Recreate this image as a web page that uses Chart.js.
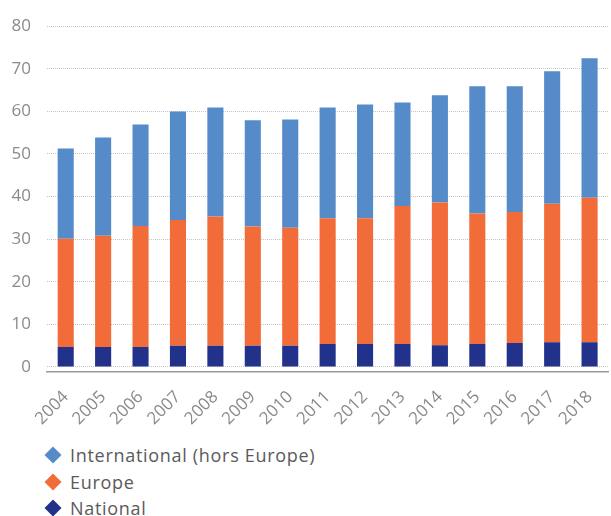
<!DOCTYPE html>
<html>
<head>
<meta charset="utf-8">
<script src="https://cdn.jsdelivr.net/npm/chart.js@4"></script>
<style>
  body { margin: 0; background: #fff; font-family: 'Open Sans', sans-serif; }
  #wrap { position: relative; width: 611px; height: 436px; }
  #legend { list-style: none; margin: 0; padding: 0; position: absolute; left: 44px; top: 442px; }
  #legend li { height: 26.5px; line-height: 26px; font-size: 18px; letter-spacing: 0.7px; color: #5a5a5a; display: flex; align-items: center; }
  #legend .dia { width: 12px; height: 12px; transform: rotate(45deg); margin: 0 11px 0 3px; }
</style>
</head>
<body>
<div id="wrap"><canvas id="chart"></canvas></div>
<ul id="legend"></ul>
<script>
const years = ['2004', '2005', '2006', '2007', '2008', '2009', '2010', '2011', '2012', '2013', '2014', '2015', '2016', '2017', '2018']
const national = [4.7, 4.7, 4.7, 5.0, 5.0, 5.0, 5.0, 5.4, 5.4, 5.4, 5.1, 5.4, 5.6, 5.8, 5.8]
const europe = [25.4, 26.1, 28.4, 29.5, 30.3, 28.0, 27.7, 29.5, 29.5, 32.4, 33.5, 30.6, 30.8, 32.5, 33.9]
const international = [21.2, 23.1, 23.8, 25.5, 25.6, 24.9, 25.4, 26.0, 26.7, 24.3, 25.2, 29.9, 29.5, 31.1, 32.8]
const yTicks = [0, 10, 20, 30, 40, 50, 60, 70, 80]

const ctx = document.getElementById('chart').getContext('2d')
const chart = new Chart(ctx, {
  type: 'bar',
  data: {
    labels: years,
    datasets: [
      { label: 'National', data: national, backgroundColor: '#22318a' },
      { label: 'Europe', data: europe, backgroundColor: '#f26c3a' },
      { label: 'International (hors Europe)', data: international, backgroundColor: '#568bca' }
    ]
  },
  options: {
    responsive: true,
    maintainAspectRatio: false,
    animation: false,
    datasets: { bar: { categoryPercentage: 1, barPercentage: 0.43 } },
    layout: { padding: { top: 17, right: 0, left: 0, bottom: 0 } },
    plugins: { legend: { display: false }, tooltip: { enabled: false } },
    scales: {
      x: {
        stacked: true,
        grid: { display: false },
        border: { display: true, color: '#9a9a9a', width: 1.5 },
        ticks: { color: '#8a8a8a', font: { family: "'Open Sans', sans-serif", size: 17 }, minRotation: 45, maxRotation: 45, padding: 7 }
      },
      y: {
        stacked: true,
        min: -1.2,
        max: 80,
        afterBuildTicks: scale => { scale.ticks = yTicks.map(v => ({ value: v })) },
        afterFit: scale => { scale.width = 47 },
        grid: { color: '#c4c4c4', lineWidth: 1, drawTicks: false },
        border: { display: false, dash: [1, 1] },
        ticks: { color: '#8a8a8a', font: { family: "'Open Sans', sans-serif", size: 17 }, padding: 16 }
      }
    }
  }
})

// legend, top of stack first
const legend = document.getElementById('legend')
chart.data.datasets.slice().reverse().forEach(ds => {
  const li = document.createElement('li')
  const d = document.createElement('span')
  d.className = 'dia'
  d.style.background = ds.backgroundColor
  li.appendChild(d)
  li.appendChild(document.createTextNode(ds.label))
  legend.appendChild(li)
})
</script>
</body>
</html>
